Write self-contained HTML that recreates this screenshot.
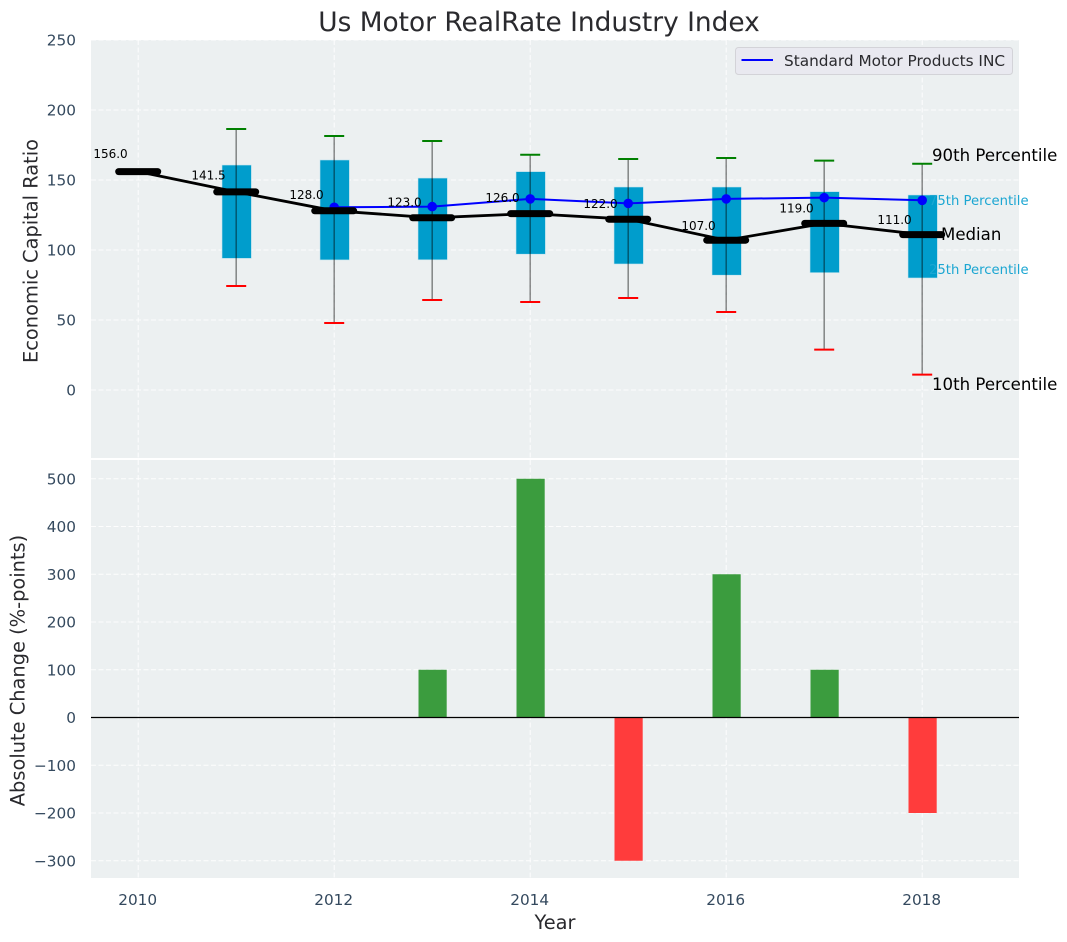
<!DOCTYPE html>
<html>
<head>
<meta charset="utf-8">
<title>Us Motor RealRate Industry Index</title>
<style>
html,body{margin:0;padding:0;background:#fff;width:1067px;height:942px;overflow:hidden}
svg{display:block;font-family:"DejaVu Sans","Liberation Sans",sans-serif}
</style>
</head>
<body>
<svg id="chart" xmlns="http://www.w3.org/2000/svg" width="1067" height="942" viewBox="0 0 1067 942"></svg>
<script>
const years = [2010, 2011, 2012, 2013, 2014, 2015, 2016, 2017, 2018];
const medianValues = [156, 141.5, 128, 123, 126, 122, 107, 119, 111];
const p75Values = [null, 160.7, 164.3, 151.4, 156, 145, 145, 141.7, 139.3];
const p25Values = [null, 94, 92.9, 93, 97, 90, 82, 83.8, 80];
const p90Values = [null, 186.4, 181.4, 177.9, 168, 165, 165.7, 163.8, 161.6];
const p10Values = [null, 74.3, 47.9, 64.3, 62.9, 65.7, 55.7, 28.8, 11];
const companyValues = [null, null, 130.5, 131, 136.5, 133.3, 136.5, 137.4, 135.5];
const changeValues = [0, 0, 0, 100, 500, -300, 300, 100, -200];
const topTicks = [0, 50, 100, 150, 200, 250];
const bottomTicks = [-300, -200, -100, 0, 100, 200, 300, 400, 500];
const xTicks = [2010, 2012, 2014, 2016, 2018];

const NS = 'http://www.w3.org/2000/svg';
const svg = document.getElementById('chart');
const X0 = 91, X1 = 1019, TOP0 = 40, TOP1 = 458, BOT0 = 460, BOT1 = 878;
const x = v => 138.2 + (v - 2010) * 98;
const yTop = v => 390 - v * 1.4;
const yBot = v => 717.5 - v * 0.4775;
const yMedianLabel = v => 387.3 - v * 1.47;

function add(tag, attrs, parent) {
  const el = document.createElementNS(NS, tag);
  for (const k in attrs) el.setAttribute(k, attrs[k]);
  (parent || svg).appendChild(el);
  return el;
}
function label(str, px, py, size, fill, anchor, parent) {
  const el = add('text', {x: px, y: py, 'font-size': size, fill: fill, 'text-anchor': anchor || 'start'}, parent);
  el.textContent = str;
  return el;
}
function fmtTick(v) { return v < 0 ? '\u2212' + Math.abs(v) : String(v); }

/* Panels */
const panelTop = add('rect', {x: X0, y: TOP0, width: X1 - X0, height: TOP1 - TOP0, fill: '#ecf0f1'});


const panelBot = add('rect', {x: X0, y: BOT0, width: X1 - X0, height: BOT1 - BOT0, fill: '#ecf0f1'});



/* Grid */
const gridStyle = {stroke: '#fff', 'stroke-width': 1, 'stroke-dasharray': '5 2.5', opacity: 0.9};
topTicks.forEach(t => {
  const g = add('line', Object.assign({x1: X0, x2: X1, y1: yTop(t), y2: yTop(t)}, gridStyle));
  
  
  const tl = label(fmtTick(t), 76, yTop(t) + 5.5, 15.3, '#34495e', 'end');
  
  
});
bottomTicks.forEach(t => {
  const g = add('line', Object.assign({x1: X0, x2: X1, y1: yBot(t), y2: yBot(t)}, gridStyle));
  
  
  const tl = label(fmtTick(t), 76, yBot(t) + 5.5, 15.3, '#34495e', 'end');
  
  
});
xTicks.forEach(t => {
  const g1 = add('line', Object.assign({x1: x(t), x2: x(t), y1: TOP0, y2: TOP1}, gridStyle));
  
  
  const g2 = add('line', Object.assign({x1: x(t), x2: x(t), y1: BOT0, y2: BOT1}, gridStyle));
  
  
  const tl = label(String(t), x(t) - 0.5, 905, 15.3, '#34495e', 'middle');
  
  
});

/* Boxes and whiskers */
years.forEach((yr, i) => {
  if (p75Values[i] === null) return;
  const box = add('rect', {
    x: x(yr) - 14.2, y: yTop(p75Values[i]), width: 29.4,
    height: yTop(p25Values[i]) - yTop(p75Values[i]),
    fill: '#009dcc', stroke: '#c5e4ee', 'stroke-width': 0.6
  });
  
  
  const wh = add('line', {x1: x(yr), x2: x(yr), y1: yTop(p90Values[i]), y2: yTop(p10Values[i]), stroke: '#000', 'stroke-opacity': 0.45, 'stroke-width': 1.5});
  
  
  const hi = add('line', {x1: x(yr) - 10, x2: x(yr) + 10, y1: yTop(p90Values[i]), y2: yTop(p90Values[i]), stroke: '#008000', 'stroke-width': 2});
  
  
  const lo = add('line', {x1: x(yr) - 10, x2: x(yr) + 10, y1: yTop(p10Values[i]), y2: yTop(p10Values[i]), stroke: '#ff0000', 'stroke-width': 2});
  
  
});

/* Company line */
const companyPts = years.map((yr, i) => companyValues[i] === null ? null : x(yr) + ',' + yTop(companyValues[i])).filter(Boolean).join(' ');
const companyLine = add('polyline', {points: companyPts, fill: 'none', stroke: '#0000ff', 'stroke-width': 2});


years.forEach((yr, i) => {
  if (companyValues[i] === null) return;
  const dot = add('circle', {cx: x(yr), cy: yTop(companyValues[i]), r: 4.8, fill: '#0000ff'});
  
  
});

/* Median line */
const medianPts = years.map((yr, i) => x(yr) + ',' + yTop(medianValues[i])).join(' ');
const medianLine = add('polyline', {points: medianPts, fill: 'none', stroke: '#000', 'stroke-width': 2.8});


years.forEach((yr, i) => {
  const m = add('line', {x1: x(yr) - 19.5, x2: x(yr) + 19.5, y1: yTop(medianValues[i]), y2: yTop(medianValues[i]), stroke: '#000', 'stroke-width': 7, 'stroke-linecap': 'round'});
  
  
  const ml = label(medianValues[i].toFixed(1), x(yr) - 27.7, yMedianLabel(medianValues[i]), 12, '#000', 'middle');
  
  
});

/* Annotations */
const a90 = label('90th Percentile', 932, 161, 16.6, '#000');


const a75 = label('75th Percentile', 929, 205, 13.2, '#1ba6d2');


const aMed = label('Median', 941, 240, 16.6, '#000');


const a25 = label('25th Percentile', 929, 274, 13.2, '#1ba6d2');


const a10 = label('10th Percentile', 932, 390, 16.6, '#000');



/* Bars */
years.forEach((yr, i) => {
  const v = changeValues[i];
  if (v === 0) return;
  const bar = add('rect', {
    x: x(yr) - 13.7, y: Math.min(yBot(v), yBot(0)), width: 28.2,
    height: Math.abs(yBot(v) - yBot(0)),
    fill: v > 0 ? '#3b9c3e' : '#ff3c3c'
  });
  
  
});
const zero = add('line', {x1: X0, x2: X1, y1: yBot(0), y2: yBot(0), stroke: '#000', 'stroke-width': 1.3});



/* Legend */
const legendBox = add('rect', {x: 735.5, y: 47.5, width: 277, height: 27, rx: 3, fill: '#e9e9f0', stroke: '#d3d3d8', 'stroke-width': 1});


const legendLine = add('line', {x1: 741.5, x2: 773, y1: 60, y2: 60, stroke: '#0000ff', 'stroke-width': 2});


const legendText = label('Standard Motor Products INC', 784, 66, 15.3, '#2a2a2e');



/* Titles */
const title = label('Us Motor RealRate Industry Index', 539, 31, 26.4, '#2a2a2e', 'middle');


const xTitle = label('Year', 555, 929, 19.4, '#2a2a2e', 'middle');


const yt1 = label('Economic Capital Ratio', 0, 0, 19.4, '#2a2a2e', 'middle');
yt1.setAttribute('transform', 'translate(37.5,251) rotate(-90)');


const yt2 = label('Absolute Change (%-points)', 0, 0, 19.4, '#2a2a2e', 'middle');
yt2.setAttribute('transform', 'translate(24.5,670.5) rotate(-90)');


</script>
</body>
</html>
